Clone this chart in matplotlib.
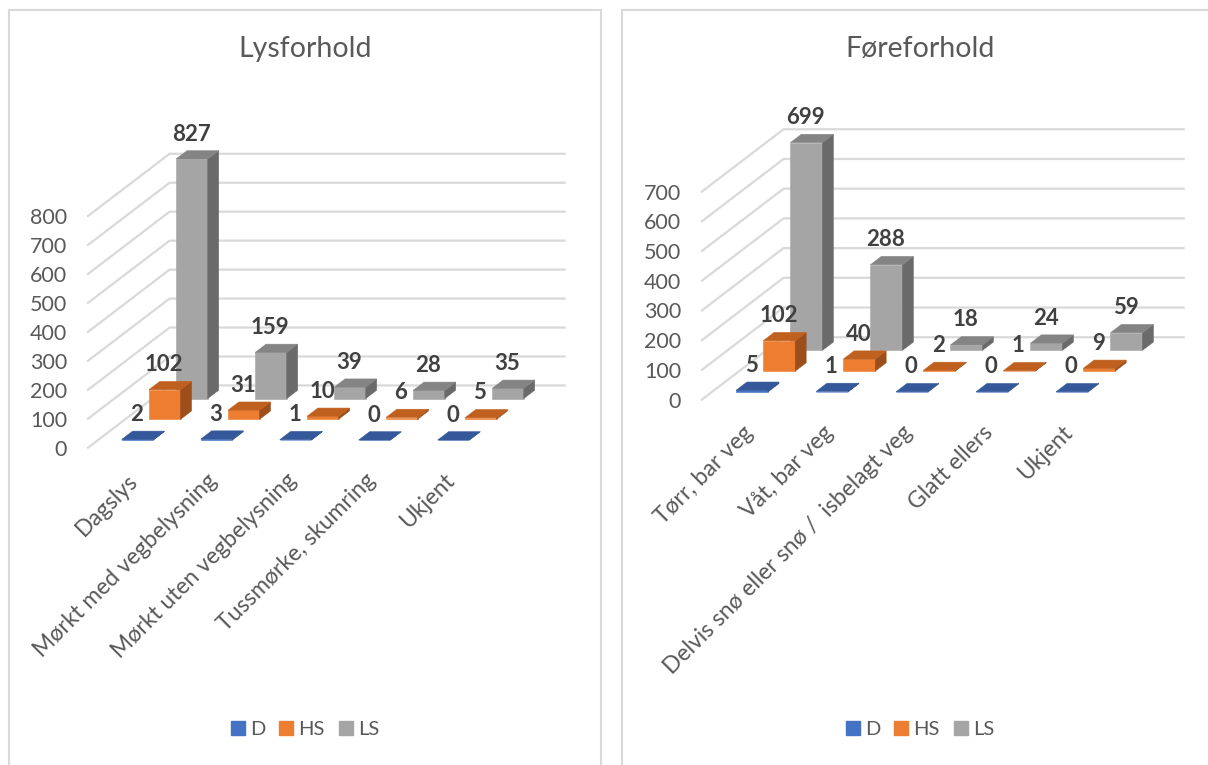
"""Two 3D-style clustered column charts: accidents by light and road conditions."""

import matplotlib.pyplot as plt
from matplotlib.lines import Line2D
from matplotlib.patches import Polygon, Rectangle

plt.rcParams["font.family"] = ["Lato", "DejaVu Sans"]

FIG_W, FIG_H = 1208, 765

SERIES = ["D", "HS", "LS"]

LIGHT_CATEGORIES = [
    "Dagslys",
    "Mørkt med vegbelysning",
    "Mørkt uten vegbelysning",
    "Tussmørke, skumring",
    "Ukjent",
]
LIGHT_D = [2, 3, 1, 0, 0]
LIGHT_HS = [102, 31, 10, 6, 5]
LIGHT_LS = [827, 159, 39, 28, 35]

ROAD_CATEGORIES = [
    "Tørr, bar veg",
    "Våt, bar veg",
    "Delvis snø eller snø /  isbelagt veg",
    "Glatt ellers",
    "Ukjent",
]
ROAD_D = [5, 1, 0, 0, 0]
ROAD_HS = [102, 40, 2, 1, 9]
ROAD_LS = [699, 288, 18, 24, 59]

# front, top, side colour for each series
FACE_COLORS = {
    "D": ("#4472C4", "#34589A", "#2B4A80"),
    "HS": ("#ED7D31", "#C0601F", "#9C4E1B"),
    "LS": ("#A5A5A5", "#848484", "#6A6A6A"),
}
LEGEND_COLORS = {"D": "#4472C4", "HS": "#ED7D31", "LS": "#A5A5A5"}
TEXT_GREY = "#595959"
LABEL_GREY = "#404040"
GRID_GREY = "#D9D9D9"

# oblique depth offset of one series row, in pixels
DEPTH_DX = 27.2
DEPTH_DY = 20.75
ROWS = 3
BAR_WIDTH = 0.4
BAR_DEPTH = 0.4
BAR_FRONT = 0.37


def _fig_rect(left, top, right, bottom):
    return [left / FIG_W, 1 - bottom / FIG_H, (right - left) / FIG_W,
            (bottom - top) / FIG_H]


def _draw_bar(ax, proj, i, row, value, colors):
    x0 = i + 0.5 - BAR_WIDTH / 2
    x1 = i + 0.5 + BAR_WIDTH / 2
    d0 = row + BAR_FRONT
    d1 = d0 + BAR_DEPTH
    front = [proj(x0, d0, 0), proj(x1, d0, 0), proj(x1, d0, value),
             proj(x0, d0, value)]
    top = [proj(x0, d0, value), proj(x1, d0, value), proj(x1, d1, value),
           proj(x0, d1, value)]
    side = [proj(x1, d0, 0), proj(x1, d1, 0), proj(x1, d1, value),
            proj(x1, d0, value)]
    for verts, color in zip((front, side, top), (colors[0], colors[2], colors[1])):
        ax.add_patch(Polygon(verts, closed=True, facecolor=color,
                             edgecolor=color, linewidth=0.4, clip_on=False))


def draw_panel(fig, front_rect, title, title_x, categories, values, vmax):
    """Draw one 3D column panel.

    front_rect: pixel box (left, top, right, bottom) of the front value plane.
    values: list of three lists, one per series, front row first.
    """
    left, top, right, bottom = front_rect
    ax = fig.add_axes(_fig_rect(left, top, right, bottom))
    n = len(categories)
    ax.set_xlim(0, n)
    ax.set_ylim(0, vmax)

    # depth offset expressed in data units of this axes
    ddx = DEPTH_DX / ((right - left) / n)
    ddv = DEPTH_DY / ((bottom - top) / vmax)

    def proj(x, d, v):
        return (x + d * ddx, v + d * ddv)

    ticks = list(range(0, vmax + 1, 100))
    for v in ticks:
        wall = [proj(0, 0, v), proj(0, ROWS, v), proj(n, ROWS, v)]
        ax.plot([p[0] for p in wall], [p[1] for p in wall], color=GRID_GREY,
                linewidth=1.6, clip_on=False, zorder=0)

    for row in reversed(range(ROWS)):
        colors = FACE_COLORS[SERIES[row]]
        for i in range(n):
            _draw_bar(ax, proj, i, row, values[row][i], colors)

    for row in range(ROWS):
        for i in range(n):
            ax.annotate(str(values[row][i]), proj(i + 0.5, row + 0.57, values[row][i]),
                        xytext=(-4.5, 15), textcoords="offset points",
                        ha="center", va="center", fontsize=16,
                        fontweight="bold", color=LABEL_GREY,
                        annotation_clip=False, zorder=5)

    for spine in ax.spines.values():
        spine.set_visible(False)
    ax.patch.set_visible(False)
    ax.set_yticks(ticks)
    ax.tick_params(axis="y", length=0, pad=15, labelsize=15.5,
                   labelcolor=TEXT_GREY)
    ax.set_xticks([i + 0.5 for i in range(n)])
    ax.set_xticklabels(categories, rotation=45, ha="right",
                       rotation_mode="anchor", fontsize=16.5, color=TEXT_GREY)
    ax.tick_params(axis="x", length=0, pad=16)

    fig.text(title_x / FIG_W, 1 - 49 / FIG_H, title, ha="center",
             va="center", fontsize=20.5, color=TEXT_GREY)

    handles = [Line2D([], [], linestyle="none", marker="s", markersize=9.5,
                      markerfacecolor=LEGEND_COLORS[s],
                      markeredgecolor=LEGEND_COLORS[s]) for s in SERIES]
    fig.legend(handles, SERIES, loc="center", ncol=3, frameon=False,
               bbox_to_anchor=(title_x / FIG_W, 1 - 729 / FIG_H),
               fontsize=14.5, labelcolor=TEXT_GREY, handlelength=0.7,
               handletextpad=0.25, columnspacing=0.7)
    return ax


fig = plt.figure(figsize=(FIG_W / 100, FIG_H / 100), dpi=100)

for box in ((8.5, 9.5, 601, 790), (622, 9.5, 1240, 790)):
    fig.add_artist(Rectangle((box[0] / FIG_W, 1 - box[3] / FIG_H),
                             (box[2] - box[0]) / FIG_W,
                             (box[3] - box[1]) / FIG_H,
                             transform=fig.transFigure, fill=False,
                             edgecolor=GRID_GREY, linewidth=1.5))

draw_panel(fig, (88, 216, 483, 447.7), "Lysforhold", 305, LIGHT_CATEGORIES,
           [LIGHT_D, LIGHT_HS, LIGHT_LS], 800)
draw_panel(fig, (702, 191.5, 1102, 399.5), "Føreforhold", 920, ROAD_CATEGORIES,
           [ROAD_D, ROAD_HS, ROAD_LS], 700)

fig.savefig("out.png", dpi=100)
